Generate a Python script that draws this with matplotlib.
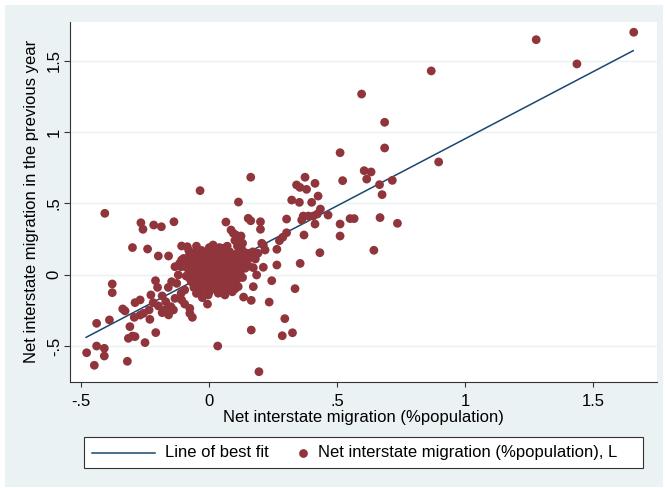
import matplotlib
matplotlib.use('Agg')
import matplotlib.pyplot as plt
from matplotlib.patches import Rectangle
from matplotlib.lines import Line2D
import numpy as np

plt.rcParams['font.family'] = ['Liberation Sans', 'DejaVu Sans']

# Net interstate migration (x) vs the same, previous year (y)
points = [
    # upper right / outliers
    (1.658, 1.699), (1.277, 1.647), (1.436, 1.477), (0.867, 1.428), (0.595, 1.266),
    (0.685, 1.068), (0.685, 0.888), (0.511, 0.855), (0.896, 0.790), (0.605, 0.729),
    (0.632, 0.720), (0.615, 0.670), (0.715, 0.661), (0.521, 0.659), (0.665, 0.631),
    (0.675, 0.561), (0.667, 0.400), (0.735, 0.360), (0.643, 0.171), (0.550, 0.393),
    (0.566, 0.393), (0.511, 0.355), (0.511, 0.271), (0.464, 0.418), (0.434, 0.460),
    (0.425, 0.551), (0.413, 0.640), (0.374, 0.683), (0.341, 0.629), (0.354, 0.612),
    (0.380, 0.598), (0.322, 0.523), (0.352, 0.507), (0.400, 0.507), (0.422, 0.425),
    (0.406, 0.411), (0.387, 0.411), (0.367, 0.411), (0.361, 0.383), (0.413, 0.355),
    (0.370, 0.278), (0.432, 0.154), (0.355, 0.079), (0.335, -0.098), (0.325, -0.407),
    (0.285, -0.428), (0.295, -0.308), (0.194, -0.680), (0.033, -0.500), (0.164, -0.388),
    (0.234, -0.192), (0.164, -0.180), (0.134, -0.157), (0.244, -0.042), (0.264, 0.068),
    (0.264, 0.178), (0.274, 0.238), (0.287, 0.262), (0.302, 0.294), (0.302, 0.390),
    (0.162, 0.683), (0.114, 0.509), (-0.036, 0.589), (0.065, 0.369), (0.152, 0.395),
    (0.162, 0.378), (0.200, 0.371), (0.200, 0.318), (0.211, 0.208), (0.218, 0.173),
    (0.085, 0.313), (0.104, 0.278), (0.124, 0.271), (0.114, 0.243), (0.094, 0.290),
    (0.055, 0.185), (0.015, 0.208), (0.205, 0.220), (0.172, -0.084), (0.211, 0.052),
    (0.172, 0.049), (0.140, 0.045), (0.185, -0.002),
    # left side
    (-0.408, 0.430), (-0.267, 0.364), (-0.259, 0.318), (-0.217, 0.348), (-0.187, 0.336),
    (-0.138, 0.371), (-0.300, 0.190), (-0.241, 0.180), (-0.199, 0.131), (-0.159, 0.131),
    (-0.086, 0.196), (-0.379, -0.065), (-0.379, -0.126), (-0.440, -0.341), (-0.390, -0.317),
    (-0.479, -0.547), (-0.449, -0.635), (-0.440, -0.500), (-0.410, -0.516), (-0.410, -0.570),
    (-0.320, -0.607), (-0.338, -0.240), (-0.329, -0.254), (-0.290, -0.196), (-0.270, -0.177),
    (-0.310, -0.364), (-0.300, -0.430), (-0.316, -0.446), (-0.290, -0.434), (-0.251, -0.476),
    (-0.209, -0.406), (-0.293, -0.299), (-0.270, -0.283), (-0.257, -0.271), (-0.235, -0.247),
    (-0.232, -0.313), (-0.228, -0.142), (-0.210, -0.042), (-0.202, -0.089), (-0.219, -0.196),
    (-0.199, -0.219), (-0.184, -0.149), (-0.170, -0.189), (-0.173, -0.247), (-0.150, -0.224),
    (-0.184, -0.266), (-0.159, -0.282), (-0.140, -0.247), (-0.134, -0.166), (-0.160, -0.089),
    (-0.147, -0.049), (-0.127, -0.061), (-0.121, -0.002), (-0.134, 0.056), (-0.110, 0.056),
    (-0.108, 0.103), (-0.108, 0.201), (-0.110, -0.130), (-0.108, -0.177), (-0.096, -0.206),
    (-0.076, -0.236), (-0.066, -0.299), (-0.076, -0.271), (-0.007, -0.206), (-0.027, -0.161),
    (-0.050, -0.131), (-0.096, -0.107), (-0.004, -0.142), (-0.030, -0.107), (0.035, -0.130),
    (0.061, -0.142), (0.087, -0.107), (0.113, -0.084), (-0.100, 0.114), (-0.076, 0.150),
    (-0.053, 0.161), (-0.116, 0.079),
    # dense cluster round zero
    (0.02, 0.16), (0.05, 0.14), (0.08, 0.16), (0.11, 0.15), (0.13, 0.17), (0.15, 0.15),
    (0.17, 0.16), (0.19, 0.15), (-0.03, 0.17), (-0.06, 0.13), (0.00, 0.15),
    (-0.09, 0.11), (-0.06, 0.09), (-0.03, 0.12), (0.00, 0.10), (0.03, 0.11), (0.06, 0.12),
    (0.09, 0.10), (0.12, 0.11), (0.15, 0.12),
    (-0.10, 0.06), (-0.07, 0.07), (-0.04, 0.06), (-0.01, 0.07), (0.02, 0.06), (0.05, 0.08),
    (0.08, 0.07), (0.11, 0.08), (0.14, 0.09),
    (-0.08, 0.03), (-0.05, 0.02), (-0.02, 0.04), (0.01, 0.02), (0.04, 0.03), (0.07, 0.04),
    (0.10, 0.03), (0.12, 0.01),
    (-0.09, -0.01), (-0.06, -0.02), (-0.03, 0.00), (0.00, -0.01), (0.03, -0.02), (0.06, 0.00),
    (0.09, -0.01), (0.11, -0.03),
    (-0.07, -0.05), (-0.04, -0.06), (-0.01, -0.04), (0.02, -0.06), (0.05, -0.05), (0.08, -0.04),
    (0.10, -0.07),
    (-0.06, -0.09), (-0.02, -0.10), (0.01, -0.08), (0.04, -0.09), (0.07, -0.10), (0.09, -0.12),
    (0.11, 0.20), (0.10, 0.24), (0.12, 0.25), (0.13, 0.22), (0.07, 0.20), (0.04, 0.19),
    (-0.05, 0.20), (-0.08, 0.17), (0.00, 0.19), (0.16, 0.12), (0.18, 0.11),
    (-0.075, 0.135), (-0.045, 0.125), (-0.015, 0.14), (0.015, 0.13), (0.045, 0.12),
    (0.075, 0.135), (0.105, 0.13), (0.135, 0.125), (0.165, 0.14),
    (-0.085, 0.09), (-0.055, 0.095), (-0.025, 0.085), (0.005, 0.09), (0.035, 0.095),
    (0.065, 0.085), (0.095, 0.09), (0.125, 0.095),
    (-0.085, 0.05), (-0.055, 0.045), (-0.025, 0.055), (0.005, 0.05), (0.035, 0.045),
    (0.065, 0.055), (0.095, 0.05), (0.125, 0.045), (0.155, 0.06),
    (-0.065, 0.01), (-0.035, 0.015), (-0.005, 0.005), (0.025, 0.01), (0.055, 0.02),
    (0.085, 0.01), (0.115, 0.015),
    (-0.075, -0.03), (-0.045, -0.025), (-0.015, -0.035), (0.015, -0.03), (0.045, -0.025),
    (0.075, -0.035), (0.13, -0.02),
    (-0.055, -0.07), (-0.025, -0.065), (0.005, -0.075), (0.035, -0.07), (0.065, -0.065),
    (0.09, -0.08),
    (-0.04, -0.11), (0.00, -0.12), (0.03, -0.11), (0.06, -0.12), (0.10, -0.10),
]
mig_x = [p[0] for p in points]
mig_prev = [p[1] for p in points]

# line of best fit end points
fit_x = [-0.481, 1.656]
fit_y = [-0.439, 1.570]

tick_vals = [-0.5, 0, 0.5, 1, 1.5]
tick_labels = ['-.5', '0', '.5', '1', '1.5']

maroon = '#90353b'
navy = '#1a476f'
bg = '#eaf2f3'

W, H = 665, 488
fig = plt.figure(figsize=(W / 100, H / 100), dpi=100, facecolor='white')
fig.add_artist(Rectangle((5 / W, 1 / H), 658 / W, 482 / H, transform=fig.transFigure,
                         facecolor=bg, edgecolor='none', zorder=0))

ax = fig.add_axes([70 / W, 1 - 381.7 / H, 587.3 / W, 360 / H])
ax.set_facecolor('white')
ax.set_xlim(-0.544, 1.75)
ax.set_ylim(-0.75, 1.773)

ax.plot(fit_x, fit_y, color=navy, lw=1.1, zorder=2)
ax.scatter(mig_x, mig_prev, s=40, color=maroon, edgecolors='none', zorder=3)

for v in tick_vals:
    ax.axhline(v, color=bg, lw=1.0, zorder=1)

ax.tick_params(axis='x', direction='out', length=3.6, width=0.8, color='#333333', pad=5)
ax.tick_params(axis='y', direction='out', length=4.3, width=0.8, color='#333333', pad=1.6)
ax.set_xticks(tick_vals)
ax.set_xticklabels(tick_labels, fontsize=12)
ax.set_yticks(tick_vals)
ax.set_yticklabels(tick_labels, fontsize=12, rotation=90, ha='right', va='center')

for side in ['top', 'right']:
    ax.spines[side].set_visible(False)
for side in ['left', 'bottom']:
    ax.spines[side].set_color('#333333')
    ax.spines[side].set_linewidth(0.8)

ax.set_xlabel('Net interstate migration (%population)', fontsize=12)
ax.set_ylabel('Net interstate migration in the previous year', fontsize=12)
ax.xaxis.set_label_coords(0.5, -0.079)
ax.yaxis.set_label_coords(-0.0535, 0.5)

# legend box below the plot
ly = 1 - 452.5 / H
fig.add_artist(Rectangle((84.3 / W, 1 - 467.7 / H), 558.7 / W, 30.4 / H, transform=fig.transFigure,
                         facecolor='white', edgecolor='#333333', lw=0.8, zorder=1))
fig.add_artist(Line2D([92 / W, 155 / W], [ly, ly], transform=fig.transFigure, color=navy, lw=1.1, zorder=2))
fig.text(165 / W, ly, 'Line of best fit', fontsize=12, va='center', ha='left')
fig.add_artist(Line2D([303 / W], [ly], transform=fig.transFigure, marker='o', markersize=6.3,
                      color=maroon, markeredgewidth=0, linestyle='none', zorder=2))
fig.text(318 / W, ly, 'Net interstate migration (%population), L', fontsize=12, va='center', ha='left')

fig.savefig('out.png', dpi=100, facecolor=fig.get_facecolor())
